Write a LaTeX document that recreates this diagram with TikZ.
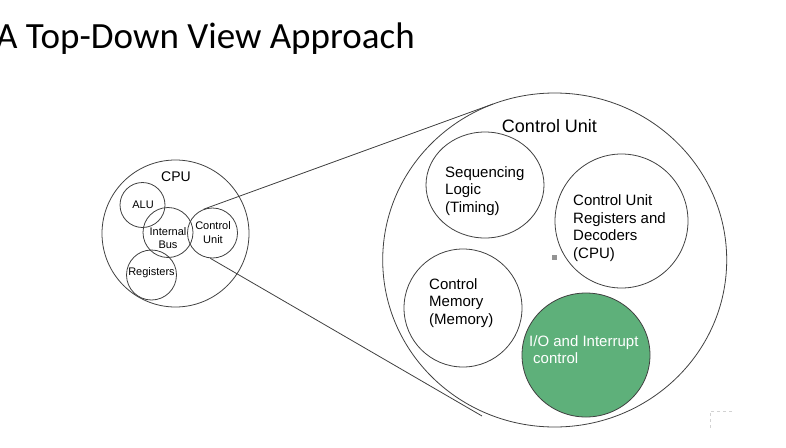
\documentclass[tikz,border=0pt]{standalone}
\usepackage{fontspec}
\setmainfont{Liberation Sans}
\newfontfamily\titlefont{Carlito}
\usetikzlibrary{shapes.geometric}
\definecolor{iogreen}{RGB}{94,176,122}
\definecolor{edgegray}{RGB}{64,64,64}
\begin{document}
\begin{tikzpicture}[x=1pt,y=-1pt,
  ring/.style={draw=edgegray, line width=0.8pt, circle, inner sep=0pt, minimum size=#1},
  oval/.style 2 args={draw=edgegray, line width=0.8pt, ellipse, inner sep=0pt, minimum width=#1, minimum height=#2},
  lbl/.style={inner sep=0pt, align=left, anchor=west, font=\fontsize{15}{17.5}\selectfont},
  smalltext/.style={inner sep=0pt, align=center, font=\fontsize{11}{13.5}\selectfont},
  link/.style={draw=edgegray, line width=0.8pt}]
\useasboundingbox (0,0) rectangle (786,447);

% title
\node[anchor=base west, inner sep=0pt, font=\titlefont\fontsize{37}{40}\selectfont] (title) at (-4,48) {A Top-Down View Approach};

% CPU overview
\node[ring=147pt] (cpu) at (175.5,233.5) {};
\node[inner sep=0pt, font=\fontsize{14}{16}\selectfont] (cpulbl) at (176,177) {CPU};
\node[ring=45pt] (alu) at (142.5,205) {};
\node[smalltext] (alulbl) at (143,205) {ALU};
\node[ring=50pt] (bus) at (168,232.5) {};
\node[smalltext] (buslbl) at (168,238) {Internal\\Bus};
\node[ring=50pt] (cu) at (212.5,233) {};
\node[smalltext] (culbl) at (213,232.5) {Control\\Unit};
\node[ring=50pt] (reg) at (151.5,275) {};
\node[smalltext] (reglbl) at (151.5,273) {Registers};

% Control unit zoom
\node[oval={344pt}{334pt}] (big) at (554.7,260) {};
\node[inner sep=0pt, font=\fontsize{18}{20}\selectfont] (biglbl) at (549.5,126) {Control Unit};

\node[oval={118pt}{106pt}] (seq) at (485,185) {};
\node[lbl] (seqlbl) at (445,191) {Sequencing\\Logic\\(Timing)};

\node[oval={133pt}{134pt}] (cur) at (621.5,221) {};
\node[lbl] (curlbl) at (573,228) {Control Unit\\Registers and\\Decoders\\(CPU)};

\node[oval={118pt}{118pt}] (mem) at (463,308) {};
\node[lbl] (memlbl) at (429,303) {Control\\Memory\\(Memory)};

\node[oval={128pt}{124pt}, fill=iogreen] (io) at (586,355) {};
\node[lbl, text=white] (iolbl) at (529,349.5) {I/O and Interrupt\\\hspace*{4pt}control};

\node[fill=gray!85, minimum size=5pt, inner sep=0pt] (dot) at (554,257) {};

% zoom lines
\coordinate (ta) at (493,104);
\coordinate (tb) at (482,416);
\draw[link] (cu.110) -- (ta);
\draw[link] (cu.265) -- (tb);

% dashed corner mark
\coordinate (c1) at (732,411);
\coordinate (c2) at (710,411);
\coordinate (c3) at (710,430);
\draw[gray!35, dashed, line width=0.7pt] (c1) -- (c2) -- (c3);
\end{tikzpicture}
\end{document}
